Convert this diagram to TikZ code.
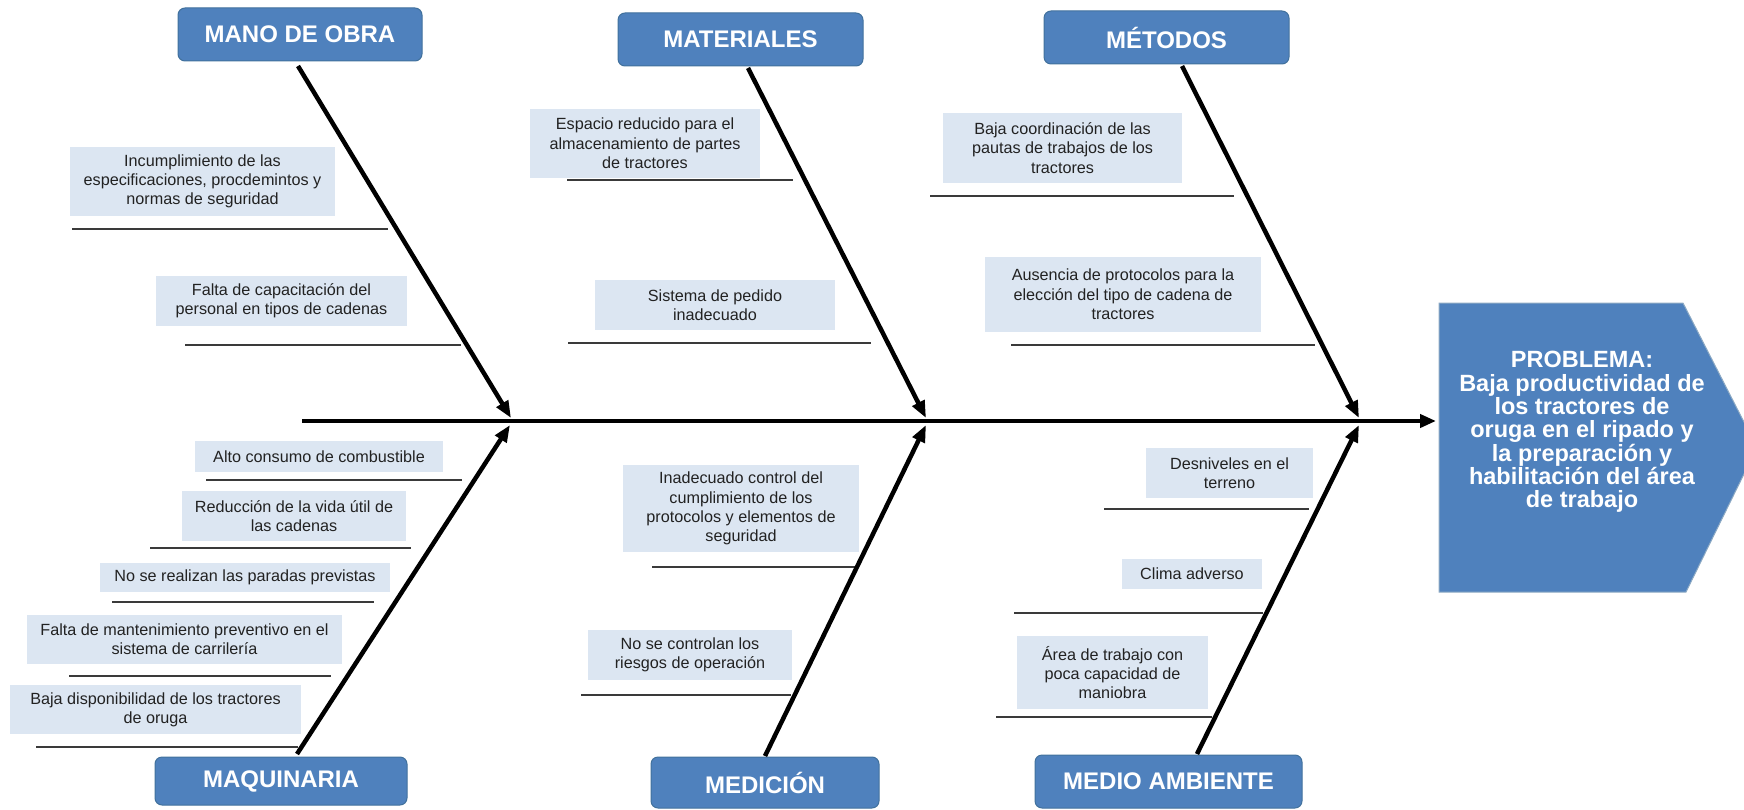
\documentclass[tikz,border=0pt]{standalone}
\usepackage{fontspec}
\setmainfont{Liberation Sans}
\usetikzlibrary{arrows.meta}
\definecolor{hdrblue}{HTML}{4F81BD}
\definecolor{hdrborder}{HTML}{41719C}
\definecolor{causefill}{HTML}{DCE6F2}
\definecolor{ulinecol}{HTML}{3A3A3A}
\definecolor{causetext}{HTML}{222222}
\lineskiplimit=-30pt
\begin{document}
\begin{tikzpicture}[x=1pt,y=-1pt,
  header/.style={rectangle, rounded corners=7pt, fill=hdrblue, draw=hdrborder, line width=1pt,
    text=white, font=\fontsize{24}{26}\selectfont\bfseries, inner sep=0pt},
  boxsz/.style 2 args={minimum width=#1pt, minimum height=#2pt},
  cause/.style={rectangle, fill=causefill, inner sep=0pt, align=center, text=causetext,
    font=\fontsize{16.2}{19.3}\selectfont},
  branch/.style={line width=4.5pt, -{Triangle[length=17pt,width=13pt]}},
  spine/.style={line width=4.5pt, -{Triangle[length=16pt,width=13pt]}},
  uline/.style={draw=ulinecol, line width=2pt},
]
\useasboundingbox (0,0) rectangle (1744,810);
\clip (0,0) rectangle (1744,810);

% Problem head
\fill[hdrblue, draw=hdrborder!60!white, line width=1pt]
  (1439,303) -- (1683,303) -- (1757,447.5) -- (1686,592) -- (1439,592) -- cycle;
\node[text=white, align=center,
  font=\fontsize{23.5}{23.3}\selectfont\bfseries] (prob) at (1582,432)
  {PROBLEMA:\\Baja productividad de\\los tractores de\\oruga en el ripado y\\la preparación y\\habilitación del área\\de trabajo};

% Headers
\node[header, boxsz={244}{53}] (hMO) at (300,34.5) {MANO DE OBRA};
\node[header, boxsz={245}{53}] (hMA) at (740.5,39.5) {MATERIALES};
\node[header, boxsz={245}{53}] (hME) at (1166.5,37.5) {MÉTODOS};
\node[header, boxsz={252}{48}] (hMQ) at (281,781) {MAQUINARIA};
\node[header, boxsz={228}{51}] (hMD) at (765,782.5) {MEDICIÓN};
\node[header, boxsz={267}{53}] (hMB) at (1168.5,781.5) {MEDIO AMBIENTE};

% Causes: Mano de obra
\node[cause, boxsz={265}{69}] (mo1) at (202.5,181.5) {Incumplimiento de las\\especificaciones, procdemintos y\\normas de seguridad};
\node[cause, boxsz={251}{50}] (mo2) at (281.5,301) {Falta de capacitación del\\personal en tipos de cadenas};
% Materiales
\node[cause, boxsz={230}{69}] (ma1) at (645,143.5) {Espacio reducido para el\\almacenamiento de partes\\de tractores};
\node[cause, boxsz={240}{50}] (ma2) at (715,305) {Sistema de pedido\\inadecuado};
% Metodos
\node[cause, boxsz={239}{70}] (me1) at (1062.5,148) {Baja coordinación de las\\pautas de trabajos de los\\tractores};
\node[cause, boxsz={276}{75}] (me2) at (1123,294.5) {Ausencia de protocolos para la\\elección del tipo de cadena de\\tractores};
% Maquinaria
\node[cause, boxsz={248}{31}] (mq1) at (319,456.5) {Alto consumo de combustible};
\node[cause, boxsz={224}{50}] (mq2) at (294,516) {Reducción de la vida útil de\\las cadenas};
\node[cause, boxsz={290}{29}] (mq3) at (245,577.5) {No se realizan las paradas previstas};
\node[cause, boxsz={315}{49}] (mq4) at (184.5,639.5) {Falta de mantenimiento preventivo en el\\sistema de carrilería};
\node[cause, boxsz={291}{49}] (mq5) at (155.5,709.5) {Baja disponibilidad de los tractores\\de oruga};
% Medicion
\node[cause, boxsz={236}{87}] (md1) at (741,508.5) {Inadecuado control del\\cumplimiento de los\\protocolos y elementos de\\seguridad};
\node[cause, boxsz={204}{50}] (md2) at (690,655) {No se controlan los\\riesgos de operación};
% Medio ambiente
\node[cause, boxsz={167}{50}] (mb1) at (1229.5,473) {Desniveles en el\\terreno};
\node[cause, boxsz={140}{30}] (mb2) at (1192,574) {Clima adverso};
\node[cause, boxsz={191}{73}] (mb3) at (1112.5,672.5) {Área de trabajo con\\poca capacidad de\\maniobra};

% Underlines
\draw[uline] (72,229) -- (388,229);
\draw[uline] (185,345) -- (461,345);
\draw[uline] (567,180) -- (793,180);
\draw[uline] (568,343) -- (871,343);
\draw[uline] (930,196) -- (1234,196);
\draw[uline] (1011,345) -- (1315,345);
\draw[uline] (206,480) -- (462,480);
\draw[uline] (150,548) -- (411,548);
\draw[uline] (112,602) -- (374,602);
\draw[uline] (69,676) -- (331,676);
\draw[uline] (36,747) -- (298,747);
\draw[uline] (652,567) -- (857,567);
\draw[uline] (581,695) -- (791,695);
\draw[uline] (1104,509) -- (1309,509);
\draw[uline] (1014,613) -- (1263,613);
\draw[uline] (996,717) -- (1212,717);

% Coordinates for branches
\coordinate (sMO) at (298,66);
\coordinate (sMA) at (748,68);
\coordinate (sME) at (1182,66);
\coordinate (sMQ) at (297,754);
\coordinate (sMD) at (765,756);
\coordinate (sMB) at (1197,754);
\coordinate (tMO) at (511,418);
\coordinate (tMA) at (926,418);
\coordinate (tME) at (1359,418);
\coordinate (tMQ) at (510,425);
\coordinate (tMD) at (926,425);
\coordinate (tMB) at (1359,425);
\coordinate (spS) at (302,421);
\coordinate (spE) at (1436,421);

% Spine and branches
\draw[spine] (spS) -- (spE);
\draw[branch] (sMO) -- (tMO);
\draw[branch] (sMA) -- (tMA);
\draw[branch] (sME) -- (tME);
\draw[branch] (sMQ) -- (tMQ);
\draw[branch] (sMD) -- (tMD);
\draw[branch] (sMB) -- (tMB);
\end{tikzpicture}
\end{document}
